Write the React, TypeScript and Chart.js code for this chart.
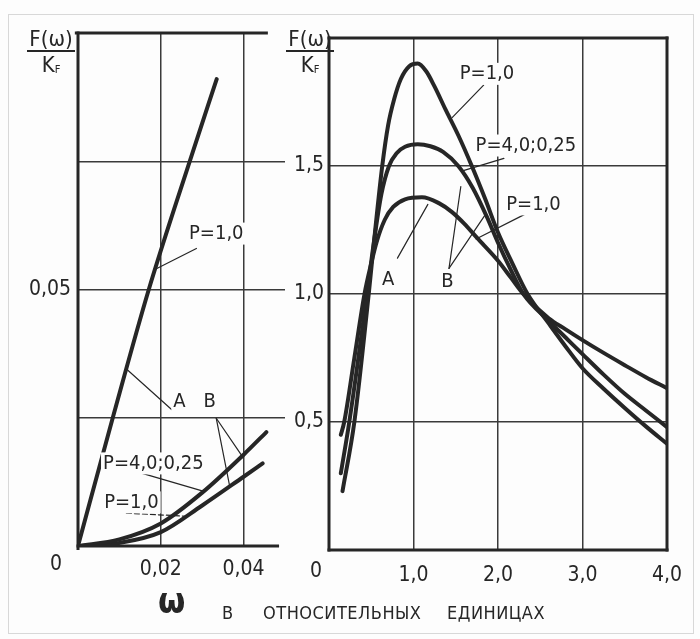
import React, { useEffect, useRef } from "react";
import { Chart, registerables } from "chart.js";

Chart.register(...registerables);

const FONT = '"DejaVu Sans Condensed", "Liberation Sans Narrow", "DejaVu Sans", sans-serif';
const INK = "#262626";
const GRID = "#3a3a3a";

// ---------- Left panel: small ω ----------
const leftLineX = [0, 0.0084, 0.0171, 0.0274, 0.0335];
const leftLineY = [0, 0.025, 0.05, 0.076, 0.091];
const leftUpperX = [0, 0.01, 0.02, 0.03, 0.04, 0.0455];
const leftUpperY = [0, 0.0013, 0.0044, 0.0104, 0.0178, 0.0222];
const leftLowerX = [0, 0.01, 0.02, 0.03, 0.04, 0.0446];
const leftLowerY = [0, 0.0006, 0.0027, 0.0079, 0.0135, 0.0161];
const leftXTicks = [0.02, 0.04];
const leftXLabels = ["0,02", "0,04"];
const leftYTicks = [0.025, 0.05, 0.075];
const leftYLabels = ["", "0,05", ""];

// ---------- Right panel: ω from 0 to 4 ----------
const rightC1X = [0.16, 0.3, 0.47, 0.55, 0.63, 0.7, 0.77, 0.85, 0.95, 1.05, 1.15, 1.25, 1.38, 1.53, 1.69, 1.85, 2.0, 2.17, 2.35, 2.6, 2.8, 3.0, 3.25, 3.5, 3.75, 4.0];
const rightC1Y = [0.23, 0.5, 1.0, 1.26, 1.5, 1.66, 1.76, 1.84, 1.89, 1.9, 1.87, 1.81, 1.72, 1.62, 1.5, 1.37, 1.24, 1.12, 1.0, 0.885, 0.795, 0.71, 0.63, 0.555, 0.483, 0.415];
const rightC2X = [0.14, 0.24, 0.45, 0.53, 0.62, 0.71, 0.8, 0.9, 1.05, 1.2, 1.35, 1.53, 1.7, 1.87, 2.0, 2.15, 2.3, 2.6, 2.8, 3.0, 3.25, 3.5, 3.75, 4.0];
const rightC2Y = [0.3, 0.5, 1.0, 1.2, 1.39, 1.5, 1.55, 1.575, 1.585, 1.577, 1.555, 1.5, 1.415, 1.3, 1.2, 1.095, 1.0, 0.895, 0.83, 0.765, 0.685, 0.61, 0.545, 0.48];
const rightC3X = [0.14, 0.18, 0.3, 0.42, 0.5, 0.57, 0.66, 0.76, 0.9, 1.1, 1.3, 1.456, 1.6, 1.75, 2.0, 2.15, 2.3, 2.6, 2.8, 3.0, 3.25, 3.5, 3.75, 4.0];
const rightC3Y = [0.45, 0.5, 0.75, 1.0, 1.12, 1.21, 1.29, 1.34, 1.37, 1.378, 1.355, 1.32, 1.275, 1.22, 1.13, 1.065, 1.0, 0.905, 0.862, 0.82, 0.77, 0.722, 0.675, 0.632];
const rightXTicks = [1, 2, 3, 4];
const rightXLabels = ["1,0", "2,0", "3,0", "4,0"];
const rightYTicks = [0.5, 1, 1.5];
const rightYLabels = ["0,5", "1,0", "1,5"];

// ---------- Annotations (data coordinates) ----------
type Note = { text: string; x: number; y: number };
type Leader = { x1: number; y1: number; x2: number; y2: number; dash?: boolean };

const leftNotes: Note[] = [
  { text: "P=1,0", x: 0.0334, y: 0.0609 },
  { text: "A", x: 0.0245, y: 0.0281 },
  { text: "B", x: 0.0318, y: 0.0281 },
  { text: "P=4,0;0,25", x: 0.0182, y: 0.0161 },
  { text: "P=1,0", x: 0.0129, y: 0.0085 },
];
const leftLeaders: Leader[] = [
  { x1: 0.0286, y1: 0.058, x2: 0.0188, y2: 0.054 },
  { x1: 0.0226, y1: 0.0266, x2: 0.0117, y2: 0.0345 },
  { x1: 0.0334, y1: 0.0249, x2: 0.0366, y2: 0.0118 },
  { x1: 0.0334, y1: 0.0249, x2: 0.0394, y2: 0.0178 },
  { x1: 0.0149, y1: 0.0143, x2: 0.0302, y2: 0.0107 },
  { x1: 0.0117, y1: 0.0064, x2: 0.0262, y2: 0.0058, dash: true },
];
const rightNotes: Note[] = [
  { text: "P=1,0", x: 1.87, y: 1.86 },
  { text: "P=4,0;0,25", x: 2.33, y: 1.58 },
  { text: "P=1,0", x: 2.42, y: 1.35 },
  { text: "A", x: 0.7, y: 1.055 },
  { text: "B", x: 1.4, y: 1.047 },
];
const rightLeaders: Leader[] = [
  { x1: 1.83, y1: 1.816, x2: 1.46, y2: 1.69 },
  { x1: 2.07, y1: 1.53, x2: 1.57, y2: 1.48 },
  { x1: 2.31, y1: 1.31, x2: 1.74, y2: 1.215 },
  { x1: 0.81, y1: 1.14, x2: 1.17, y2: 1.35 },
  { x1: 1.42, y1: 1.1, x2: 1.56, y2: 1.42 },
  { x1: 1.42, y1: 1.1, x2: 1.85, y2: 1.31 },
];

const leftFrame = [
  [0, -0.0005, 0, 0.1],
  [-0.0004, 0.1, 0.0455, 0.1],
  [0, 0, 0.0482, 0],
];
const rightFrame = [
  [0, 0, 4, 0],
  [4, 0, 4, 2],
  [4, 2, 0, 2],
  [0, 2, 0, 0],
];

const pts = (xs: number[], ys: number[]) => xs.map((x, i) => ({ x, y: ys[i] }));
const curve = (xs: number[], ys: number[], w = 4) => ({
  data: pts(xs, ys),
  borderColor: INK,
  borderWidth: w,
  pointRadius: 0,
  fill: false,
  cubicInterpolationMode: "monotone" as const,
  borderCapStyle: "round" as const,
  borderJoinStyle: "round" as const,
});

function overlayPlugin(frame: number[][], leaders: Leader[], notes: Note[], origin: { dx: number; dy: number }) {
  return {
    id: "overlay",
    afterDatasetsDraw(chart: any) {
      const { ctx } = chart;
      const sx = chart.scales.x;
      const sy = chart.scales.y;
      const px = (v: number) => sx.getPixelForValue(v);
      const py = (v: number) => sy.getPixelForValue(v);
      ctx.save();
      ctx.strokeStyle = INK;
      ctx.lineCap = "square";
      ctx.lineWidth = 3;
      for (const f of frame) {
        ctx.beginPath();
        ctx.moveTo(px(f[0]), py(f[1]));
        ctx.lineTo(px(f[2]), py(f[3]));
        ctx.stroke();
      }
      ctx.lineCap = "round";
      ctx.lineWidth = 1.2;
      for (const l of leaders) {
        ctx.setLineDash(l.dash ? [5, 3] : []);
        ctx.beginPath();
        ctx.moveTo(px(l.x1), py(l.y1));
        ctx.lineTo(px(l.x2), py(l.y2));
        ctx.stroke();
      }
      ctx.setLineDash([]);
      ctx.font = `20px ${FONT}`;
      ctx.textAlign = "center";
      ctx.textBaseline = "middle";
      for (const n of notes) {
        const w = ctx.measureText(n.text).width;
        const cx = px(n.x);
        const cy = py(n.y);
        ctx.fillStyle = "#fdfdfd";
        ctx.fillRect(cx - w / 2 - 2, cy - 11, w + 4, 22);
        ctx.fillStyle = INK;
        ctx.fillText(n.text, cx, cy);
      }
      ctx.font = `21px ${FONT}`;
      ctx.fillStyle = INK;
      ctx.fillText("0", px(0) + origin.dx, py(0) + origin.dy);
      ctx.restore();
    },
  };
}

function tickFont() {
  return { family: FONT, size: 21 };
}

function leftConfig(): any {
  return {
    type: "line",
    data: {
      datasets: [
        curve(leftLineX, leftLineY),
        curve(leftUpperX, leftUpperY),
        curve(leftLowerX, leftLowerY),
      ],
    },
    options: {
      responsive: false,
      animation: false,
      events: [],
      layout: { padding: { top: 33, right: 15, left: 0, bottom: 0 } },
      plugins: { legend: { display: false }, tooltip: { enabled: false } },
      scales: {
        x: {
          type: "linear",
          min: 0,
          max: 0.05,
          afterBuildTicks: (s: any) => {
            s.ticks = leftXTicks.map((v) => ({ value: v }));
          },
          afterFit: (s: any) => {
            s.height = 93;
          },
          grid: { color: GRID, lineWidth: 1.5, drawTicks: false },
          border: { display: false },
          ticks: {
            font: tickFont(),
            color: INK,
            padding: 11,
            maxRotation: 0,
            autoSkip: false,
            callback: (_v: any, i: number) => leftXLabels[i] ?? "",
          },
        },
        y: {
          type: "linear",
          min: 0,
          max: 0.1,
          afterBuildTicks: (s: any) => {
            s.ticks = leftYTicks.map((v) => ({ value: v }));
          },
          afterFit: (s: any) => {
            s.width = 78;
          },
          grid: { color: GRID, lineWidth: 1.5, drawTicks: false },
          border: { display: false },
          ticks: {
            font: tickFont(),
            color: INK,
            padding: 7,
            autoSkip: false,
            callback: (_v: any, i: number) => leftYLabels[i] ?? "",
          },
        },
      },
    },
    plugins: [overlayPlugin(leftFrame, leftLeaders, leftNotes, { dx: -22, dy: 19 })],
  };
}

function rightConfig(): any {
  return {
    type: "line",
    data: {
      datasets: [
        curve(rightC1X, rightC1Y),
        curve(rightC2X, rightC2Y),
        curve(rightC3X, rightC3Y),
      ],
    },
    options: {
      responsive: false,
      animation: false,
      events: [],
      layout: { padding: { top: 38, right: 33, left: 0, bottom: 0 } },
      plugins: { legend: { display: false }, tooltip: { enabled: false } },
      scales: {
        x: {
          type: "linear",
          min: 0,
          max: 4,
          afterBuildTicks: (s: any) => {
            s.ticks = rightXTicks.map((v) => ({ value: v }));
          },
          afterFit: (s: any) => {
            s.height = 89;
          },
          grid: { color: GRID, lineWidth: 1.5, drawTicks: false },
          border: { display: false },
          ticks: {
            font: tickFont(),
            color: INK,
            padding: 13,
            maxRotation: 0,
            autoSkip: false,
            callback: (_v: any, i: number) => rightXLabels[i] ?? "",
          },
        },
        y: {
          type: "linear",
          min: 0,
          max: 2,
          afterBuildTicks: (s: any) => {
            s.ticks = rightYTicks.map((v) => ({ value: v }));
          },
          afterFit: (s: any) => {
            s.width = 39;
          },
          grid: { color: GRID, lineWidth: 1.5, drawTicks: false },
          border: { display: false },
          ticks: {
            font: tickFont(),
            color: INK,
            padding: 5,
            autoSkip: false,
            callback: (_v: any, i: number) => rightYLabels[i] ?? "",
          },
        },
      },
    },
    plugins: [overlayPlugin(rightFrame, rightLeaders, rightNotes, { dx: -13, dy: 22 })],
  };
}

function Panel({ make, left, width }: { make: () => any; left: number; width: number }) {
  const ref = useRef<HTMLCanvasElement>(null);
  useEffect(() => {
    const chart = new Chart(ref.current as HTMLCanvasElement, make());
    return () => chart.destroy();
  }, []);
  return (
    <canvas
      ref={ref}
      width={width}
      height={639}
      style={{ position: "absolute", left, top: 0, width, height: 639 }}
    />
  );
}

function YTitle({ left, top }: { left: number; top: number }) {
  return (
    <div
      style={{
        position: "absolute",
        left,
        top,
        width: 48,
        textAlign: "center",
        fontFamily: FONT,
        fontSize: 22,
        lineHeight: "23px",
        color: INK,
      }}
    >
      <div style={{ borderBottom: `2px solid ${INK}` }}>F(ω)</div>
      <div style={{ marginTop: 1 }}>
        K<span style={{ fontSize: 11, verticalAlign: "-1px" }}>F</span>
      </div>
    </div>
  );
}

const span = (text: string, left: number, top: number, size: number, ls = 0, weight = 400) => (
  <span
    style={{
      position: "absolute",
      left,
      top,
      fontFamily: FONT,
      fontSize: size,
      fontWeight: weight,
      letterSpacing: ls,
      color: INK,
      whiteSpace: "nowrap",
      lineHeight: 1,
    }}
  >
    {text}
  </span>
);

export default function App() {
  return (
    <div
      style={{
        position: "absolute",
        left: 0,
        top: 0,
        width: 700,
        height: 639,
        background: "#fdfdfd",
        overflow: "hidden",
      }}
    >
      <div
        style={{
          position: "absolute",
          left: 8,
          top: 14,
          width: 684,
          height: 618,
          border: "1px solid #d8d8d8",
        }}
      />
      <Panel make={leftConfig} left={0} width={300} />
      <Panel make={rightConfig} left={290} width={410} />
      <YTitle left={27} top={27} />
      <YTitle left={286} top={27} />
      {span("ω", 158, 584, 35, 0, 700)}
      {span("В", 222, 604, 18)}
      {span("ОТНОСИТЕЛЬНЫХ", 263, 604, 18, 0.5)}
      {span("ЕДИНИЦАХ", 447, 604, 18, 0.5)}
    </div>
  );
}
